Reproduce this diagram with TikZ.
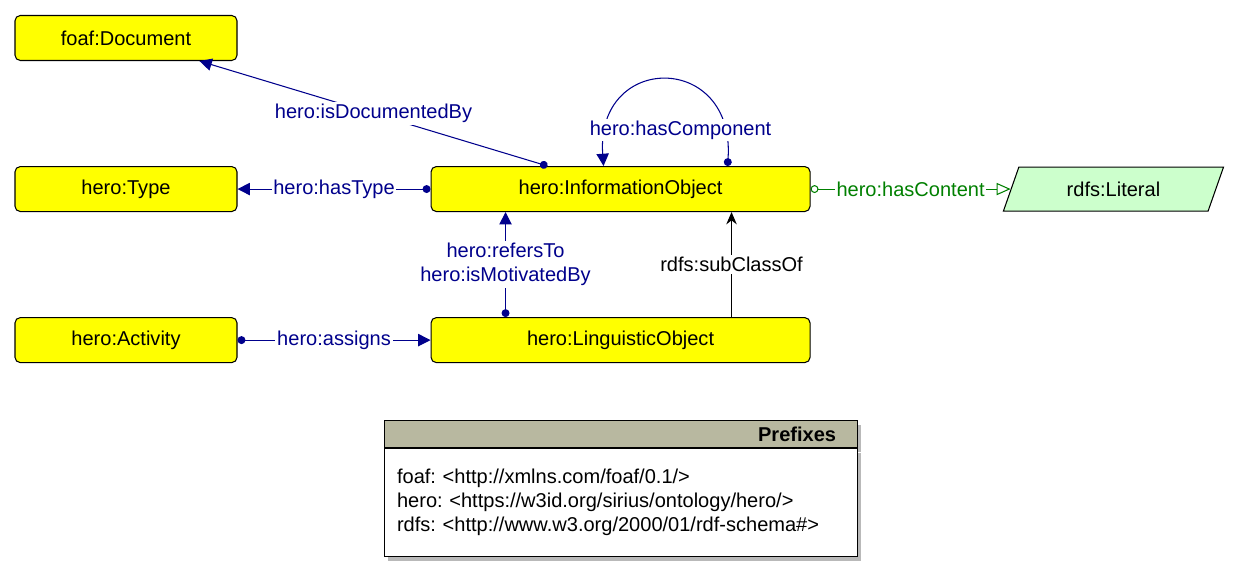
\documentclass[tikz,border=0pt]{standalone}
\usepackage{fontspec}
\setmainfont{Liberation Sans}
\usetikzlibrary{arrows.meta,positioning,shapes.geometric,shadows}
\definecolor{clsyellow}{RGB}{255,255,0}
\definecolor{propblue}{RGB}{0,0,140}
\definecolor{litgreen}{RGB}{204,255,204}
\definecolor{dtgreen}{RGB}{0,128,0}
\definecolor{pfxgray}{RGB}{184,184,160}
\frenchspacing

\begin{document}
\begin{tikzpicture}[
    font=\fontsize{11.4}{13.7}\selectfont,
    cls/.style={draw=black, fill=clsyellow, rounded corners=3pt, line width=0.6pt,
                minimum width=4.44cm, minimum height=0.9cm},
    bigcls/.style={cls, minimum width=7.58cm},
    lit/.style={draw=black, fill=litgreen, line width=0.6pt, trapezium,
                trapezium left angle=72, trapezium right angle=108,
                trapezium stretches=true, minimum width=4.42cm, minimum height=0.88cm},
    objprop/.style={{Circle[length=4.5pt]}-{Triangle[length=7pt,width=7pt]},
                    propblue, line width=0.6pt},
    dtprop/.style={{Circle[open,length=4.5pt]}-{Triangle[open,length=8pt,width=7pt]},
                   dtgreen, line width=0.6pt},
    subcls/.style={-{Stealth[length=7pt,width=6pt]}, black, line width=0.6pt},
    lbl/.style={fill=white, inner sep=1pt, text=propblue},
    pfxhead/.style={draw=black, fill=pfxgray, line width=0.6pt, font=\fontsize{11.4}{13.7}\selectfont\bfseries,
                    text width=8.62cm, align=right, inner xsep=0.42cm, minimum height=0.54cm,
                    drop shadow={shadow xshift=2.5pt, shadow yshift=-2.5pt, fill=gray!55, opacity=1}},
    pfxbody/.style={draw=black, fill=white, line width=0.6pt,
                    text width=8.94cm, align=left, inner xsep=0.26cm, minimum height=2.16cm,
                    drop shadow={shadow xshift=2.5pt, shadow yshift=-2.5pt, fill=gray!55, opacity=1}}
  ]
    \useasboundingbox (0,0) rectangle (24.8,-11.5);

    \node[cls]    (doc)  at (2.52,-0.76)         {foaf:Document};
    \node[cls]    (type) [below=2.1cm of doc]    {hero:Type};
    \node[cls]    (act)  [below=2.1cm of type]   {hero:Activity};
    \node[bigcls] (io)   [right=3.86cm of type]  {hero:InformationObject};
    \node[bigcls] (ling) [below=2.1cm of io]     {hero:LinguisticObject};
    \node[lit]    (lit)  [right=4.0cm of io]     {rdfs:Literal};

    \draw[objprop] ([xshift=2.34cm]io.north west) -- node[lbl] {hero:isDocumentedBy} ([xshift=3.7cm]doc.south west);
    \draw[objprop] ([xshift=5.94cm]io.north west) .. controls +(0.16,2.28) and +(-0.16,2.28) .. ([xshift=3.46cm]io.north west);
    \node[lbl] (hascomp) at ([xshift=5.0cm,yshift=0.72cm]io.north west) {hero:hasComponent};
    \draw[objprop] (io.west) -- node[lbl] {hero:hasType} (type.east);
    \draw[dtprop] (io.east) -- node[lbl, text=dtgreen] {hero:hasContent} (lit.west);
    \draw[objprop] ([xshift=1.5cm]ling.north west) -- node[lbl, align=center] {hero:refersTo\\hero:isMotivatedBy} ([xshift=1.5cm]io.south west);
    \draw[subcls] ([xshift=6.02cm]ling.north west) -- node[lbl, text=black] {rdfs:subClassOf} ([xshift=6.02cm]io.south west);
    \draw[objprop] (act.east) -- node[lbl] {hero:assigns} (ling.west);

    % prefixes
    \node[pfxhead] (pfxhead) [below=1.14cm of ling] {Prefixes};
    \node[pfxbody] (pfxbody) [below=0cm of pfxhead]
      {foaf: <http://xmlns.com/foaf/0.1/>\\
       hero: <https://w3id.org/sirius/ontology/hero/>\\
       rdfs: <http://www.w3.org/2000/01/rdf-schema\#>};
  \end{tikzpicture}
\end{document}
